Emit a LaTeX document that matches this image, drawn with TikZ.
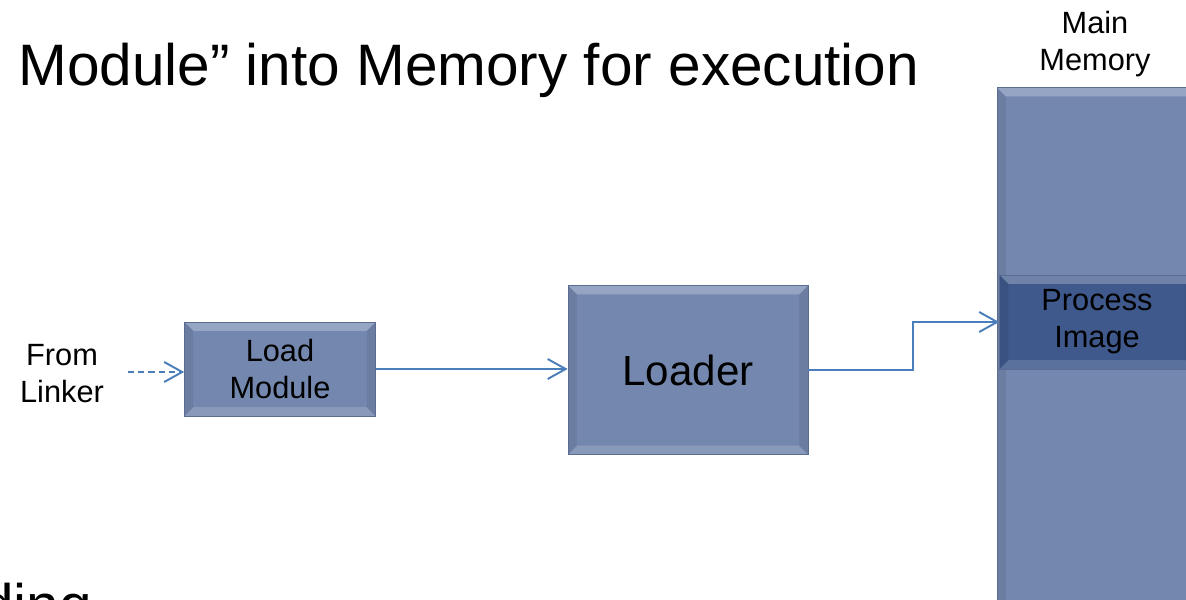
\documentclass[tikz,border=0pt]{standalone}
\usepackage{fontspec}
\setmainfont{Liberation Sans}
\usetikzlibrary{
    calc,
    arrows.meta
}
\definecolor{boxblue}{RGB}{116,136,175}
\definecolor{boxedge}{RGB}{90,108,146}
\definecolor{imgblue}{RGB}{63,89,140}
\definecolor{flowblue}{RGB}{74,126,187}

\tikzset{
    bevel/.style={path picture={
        \path (path picture bounding box.north west) coordinate (bvA)
              (path picture bounding box.south east) coordinate (bvB)
              (path picture bounding box.north east) coordinate (bvC)
              (path picture bounding box.south west) coordinate (bvD);
        \fill[white,opacity=.25] (bvA) -- (bvC) -- ([shift={(-#1,-#1)}]bvC) -- ([shift={(#1,-#1)}]bvA) -- cycle;
        \fill[white,opacity=.15] (bvD) -- (bvB) -- ([shift={(-#1,#1)}]bvB) -- ([shift={(#1,#1)}]bvD) -- cycle;
        \fill[black,opacity=.07] (bvA) -- (bvD) -- ([shift={(#1,#1)}]bvD) -- ([shift={(#1,-#1)}]bvA) -- cycle;
        \fill[black,opacity=.07] (bvC) -- (bvB) -- ([shift={(-#1,#1)}]bvB) -- ([shift={(-#1,-#1)}]bvC) -- cycle;
    }},
    blk/.style={draw=boxedge, fill=boxblue, inner sep=0pt, align=center, bevel=5pt},
    lbl/.style={font=\fontsize{17.5}{21}\selectfont, align=center, inner sep=0pt},
    flow/.style={draw=flowblue, line width=1.1pt,
        -{Straight Barb[length=3.6mm,width=4mm,line width=1.1pt]}}
}

\begin{document}
\begin{tikzpicture}[x=0.02cm, y=-0.02cm]
        \useasboundingbox (0,0) rectangle (1186,599);

        % slide text, cut by the frame
        \node[anchor=base west, inner sep=0pt, font=\fontsize{33.3}{40}\selectfont] (ttl) at (18,85) {Module” into Memory for execution};
        \node[anchor=base east, inner sep=0pt, font=\fontsize{33.3}{40}\selectfont] (cut) at (92,625) {ding};

        \node[lbl] (fl) at (62,374) {From\\Linker};
        \coordinate (src) at (128,372);

        \node[blk, lbl, minimum width=3.82cm, minimum height=1.88cm] (lm) at (280,369) {Load\\Module};
        \node[blk, minimum width=4.8cm, minimum height=3.38cm, font=\fontsize{24}{29}\selectfont] (ld) at (688,370) {Loader};

        \node[blk, minimum width=3.96cm, minimum height=10.54cm] (mm) at (1096,351) {};
        \node[lbl] (mmt) at (1095,44) {Main\\Memory};
        \node[blk, lbl, fill=imgblue, minimum width=3.9cm, minimum height=1.88cm] (pi) at (1097,322) {Process\\Image};

        \draw[flow, dash pattern=on 3.5pt off 2.3pt] (src) -- (src -| lm.west);
        \draw[flow] (lm.east) -- (lm.east -| ld.west);
        \draw[flow] (ld.east) -- ++(105,0) |- (pi.west);
    \end{tikzpicture}
\end{document}
